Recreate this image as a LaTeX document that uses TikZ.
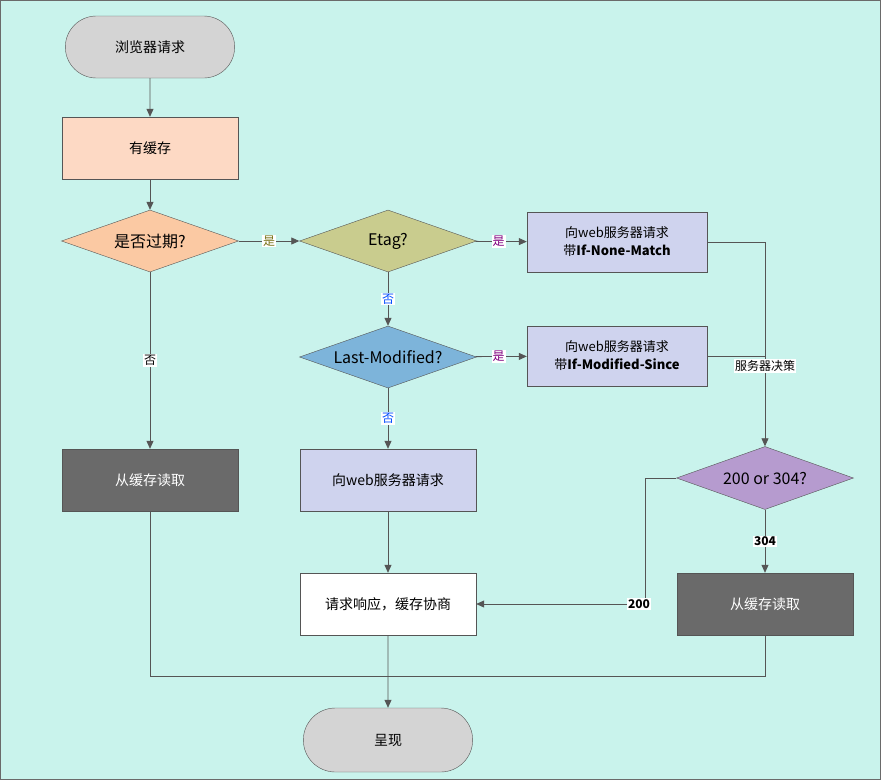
\documentclass[tikz,border=0pt]{standalone}
\usepackage{fontspec}
\setmainfont{Noto Sans CJK SC}
\usetikzlibrary{shapes.geometric,shapes.misc,arrows.meta}
\definecolor{bgc}{HTML}{C9F3EC}
\definecolor{termc}{HTML}{D4D4D4}
\definecolor{cachec}{HTML}{FDD9C4}
\definecolor{expc}{HTML}{FBC9A3}
\definecolor{etagc}{HTML}{C9CC8E}
\definecolor{lastc}{HTML}{7DB4DA}
\definecolor{reqc}{HTML}{CFD3EE}
\definecolor{darkc}{HTML}{6A6A6A}
\definecolor{decc}{HTML}{B69BCF}
\definecolor{linec}{HTML}{555555}
\tikzset{
  term/.style={rounded rectangle,draw=linec,fill=termc,minimum width=176pt,minimum height=62pt,font=\fontsize{14}{16}\selectfont},
  box/.style={rectangle,draw=linec,minimum width=176pt,minimum height=62pt,font=\fontsize{14}{16}\selectfont},
  sbox/.style={rectangle,draw=linec,fill=reqc,minimum width=180pt,minimum height=60pt,align=center,font=\fontsize{13}{18}\selectfont},
  dec/.style={diamond,aspect=2.85,draw=linec,inner sep=0pt,minimum width=177pt,minimum height=62pt,font=\fontsize{16}{18}\selectfont},
  conn/.style={draw=linec,line width=0.8pt},
  arr/.style={conn,-{Triangle[length=8pt,width=7pt]}},
  lbl/.style={fill=white,inner sep=1pt,font=\fontsize{12}{13}\selectfont}
}
\begin{document}
\begin{tikzpicture}[x=1pt,y=-1pt]
    \draw [fill=bgc,draw=darkc] (0.5,0.5) rectangle (880.5,779.5);
    \useasboundingbox (0,0) rectangle (881,780);
    % left column
    \node [term] (start) at (150,47) {浏览器请求};
    \node [box,fill=cachec] (cache) at (150,148) {有缓存};
    \node [dec,fill=expc] (expire) at (150,241) {是否过期?};
    \node [box,fill=darkc,text=white] (readl) at (150,480) {从缓存读取};
    % middle column
    \node [dec,fill=etagc] (etag) at (388,241) {Etag?};
    \node [dec,fill=lastc] (last) at (388,357) {Last-Modified?};
    \node [box,fill=reqc] (req) at (388,480) {向web服务器请求};
    \node [box,fill=white] (resp) at (388,604) {请求响应，缓存协商};
    \node [term,minimum height=64pt] (show) at (388,740) {呈现};
    % right column
    \node [sbox] (none) at (617,242) {向web服务器请求\\带\textbf{If-None-Match}};
    \node [sbox] (since) at (617,356) {向web服务器请求\\带\textbf{If-Modified-Since}};
    \node [dec,fill=decc,minimum height=63pt] (code) at (765,478) {200 or 304?};
    \node [box,fill=darkc,text=white] (readr) at (765,604) {从缓存读取};
    \coordinate (j1) at (765,242);
    \coordinate (j2) at (645,478);
    \coordinate (j3) at (645,604);
    \coordinate (j4) at (150,676);
    \coordinate (j5) at (765,676);
    \coordinate (j6) at (388,676);
    % connectors
    \draw [arr] (start) -- (cache);
    \draw [arr] (cache) -- (expire);
    \draw [arr] (expire) -- node [lbl,text=olive!80!black] {是} (etag);
    \draw [arr] (expire) -- node [lbl] {否} (readl);
    \draw [arr] (etag) -- node [lbl,pos=0.45,text=violet] {是} (none);
    \draw [arr] (etag) -- node [lbl,text=blue!70!cyan] {否} (last);
    \draw [arr] (last) -- node [lbl,pos=0.45,text=violet] {是} (since);
    \draw [arr] (last) -- node [lbl,text=blue!70!cyan] {否} (req);
    \draw [arr] (none) -- (j1) -- (code);
    \draw [conn] (since.east) -- (since.east -| j1) node [lbl,below,yshift=-3pt] {服务器决策};
    \draw [arr] (code) -- node [lbl,font=\fontsize{12}{13}\bfseries] {304} (readr);
    \draw [arr] (code) -- (j2) -- (j3) node [lbl,xshift=-6pt,font=\fontsize{12}{13}\bfseries] {200} -- (resp);
    \draw [arr] (req) -- (resp);
    \draw [arr] (resp) -- (show);
    \draw [conn] (readl) -- (j4) -- (j6);
    \draw [conn] (readr) -- (j5) -- (j6);
\end{tikzpicture}
\end{document}
